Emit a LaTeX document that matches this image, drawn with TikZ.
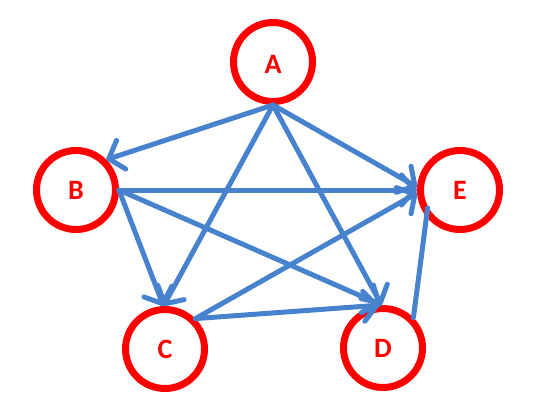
\documentclass[tikz,border=0pt]{standalone}
\usepackage{fontspec}
\setmainfont{Carlito}
\usetikzlibrary{arrows.meta,calc}
\definecolor{edgeblue}{RGB}{70,130,205}
\definecolor{nodered}{RGB}{255,0,0}
\tikzset{
  vert/.style={circle, draw=nodered, line width=7pt, fill=white, minimum size=79pt, inner sep=0pt,
    text=nodered, font=\fontsize{28}{30}\selectfont\bfseries},
  edgeline/.style={draw=edgeblue, line width=5pt, line cap=round},
  edge/.style={edgeline,
    -{Straight Barb[length=13pt, width=30pt, line cap=round, line join=round]}}
}
\begin{document}
\begin{tikzpicture}[x=1pt, y=-1pt]
\useasboundingbox (0,0) rectangle (544,416);
\node[vert, text height=23pt, text depth=0pt] (A) at (273,62) {A};
\node[vert] (B) at (76,190) {B};
\node[vert] (C) at (165,349) {C};
\node[vert] (D) at (383,348) {D};
\node[vert] (E) at (460,190) {E};
\coordinate (Ein) at ($(E.center)+(151:37)$);
\draw[edge] (A.south) -- (B.45);
\draw[edge] (A.south) -- (C.92);
\draw[edge] (A.south) -- (D.92);
\draw[edge] (A.south) -- (E.176);
\draw[edge] (B.east) -- (E.180);
\draw[edge] (B.east) -- (C.92);
\draw[edge] (B.east) -- (D.92);
\draw[edge] (C.45) -- (E.184);
\draw[edge] (C.45) -- (D.95);
\draw[edgeline] (D.45) -- (Ein);
\end{tikzpicture}
\end{document}
